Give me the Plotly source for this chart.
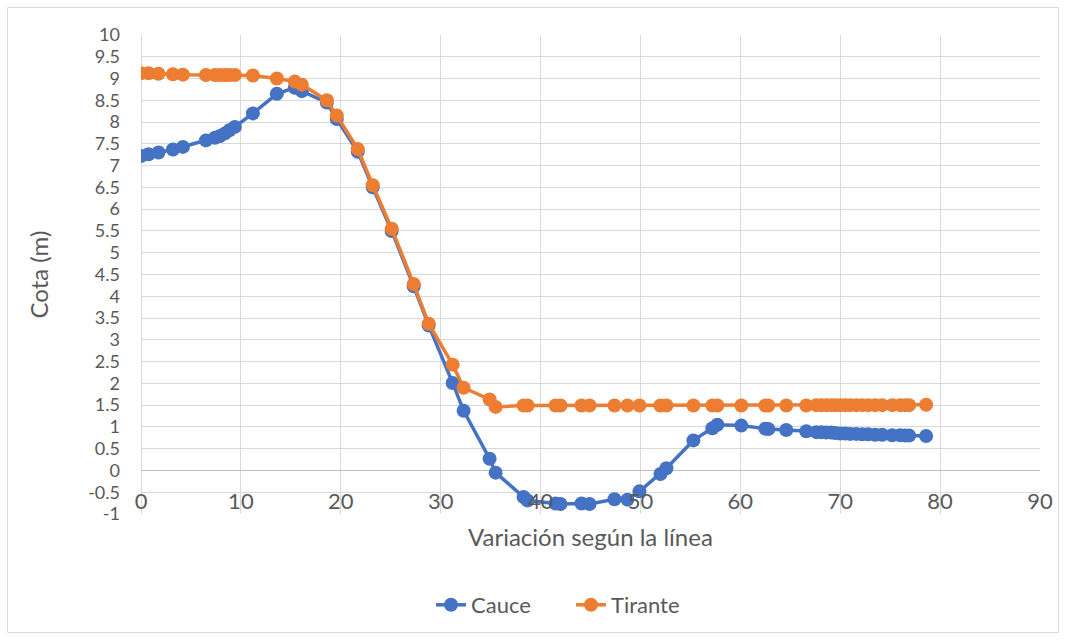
import plotly.graph_objects as go

# Stations along the profile line (m)
variacion = [
    0.0, 0.75, 1.75, 3.2, 4.2, 6.5, 7.4, 7.9, 8.4, 8.85, 9.4, 11.2,
    13.6, 15.4, 16.1, 18.6, 19.6, 21.7, 23.2, 25.1, 27.3, 28.8, 31.2, 32.3,
    34.9, 35.5, 38.3, 38.7, 41.5, 42.0, 44.1, 44.9, 47.4, 48.7, 49.9, 52.0,
    52.6, 55.3, 57.2, 57.7, 60.1, 62.5, 62.8, 64.6, 66.6, 67.6, 68.1, 68.6,
    69.1, 69.5, 70.0, 70.5, 71.0, 71.6, 72.2, 72.8, 73.5, 74.2, 75.2, 76.0,
    76.5, 76.9, 78.6,
]

# Channel bed elevation (m)
cauce = [
    7.22, 7.26, 7.30, 7.37, 7.43, 7.58, 7.64, 7.68, 7.74, 7.81, 7.89, 8.20,
    8.65, 8.79, 8.71, 8.45, 8.07, 7.32, 6.50, 5.50, 4.23, 3.33, 2.01, 1.37,
    0.27, -0.05, -0.61, -0.69, -0.76, -0.77, -0.76, -0.77, -0.66, -0.67, -0.48, -0.08,
    0.05, 0.69, 0.97, 1.05, 1.03, 0.96, 0.95, 0.93, 0.90, 0.88, 0.88, 0.87,
    0.87, 0.86, 0.85, 0.85, 0.84, 0.84, 0.83, 0.83, 0.82, 0.82, 0.81, 0.81,
    0.80, 0.80, 0.79,
]

# Water surface elevation (m)
tirante = [
    9.12, 9.12, 9.11, 9.10, 9.09, 9.08, 9.08, 9.08, 9.08, 9.08, 9.08, 9.07,
    9.00, 8.93, 8.86, 8.50, 8.15, 7.38, 6.55, 5.55, 4.28, 3.37, 2.43, 1.90,
    1.63, 1.46, 1.49, 1.49, 1.49, 1.49, 1.49, 1.49, 1.49, 1.49, 1.49, 1.49,
    1.49, 1.49, 1.49, 1.49, 1.49, 1.49, 1.49, 1.49, 1.49, 1.50, 1.50, 1.50,
    1.50, 1.50, 1.50, 1.50, 1.50, 1.50, 1.50, 1.50, 1.50, 1.50, 1.50, 1.50,
    1.50, 1.50, 1.51,
]

y_tick_vals = [v / 2 for v in range(-2, 21)]
y_tick_text = [("%g" % v) for v in y_tick_vals]
x_tick_vals = list(range(0, 91, 10))
x_tick_text = [str(v) for v in x_tick_vals]

FONT = "Lato, Carlito, Calibri, sans-serif"
TEXT = "#595959"
GRID = "#d9d9d9"

W, H = 1067, 640
L, R, T, B = 141, 1040, 35, 514

fig = go.Figure()
fig.add_trace(go.Scatter(
    x=variacion, y=cauce, name="Cauce", mode="lines+markers",
    line=dict(color="#4472c4", width=3.5),
    marker=dict(color="#4472c4", size=14),
))
fig.add_trace(go.Scatter(
    x=variacion, y=tirante, name="Tirante", mode="lines+markers",
    line=dict(color="#ed7d31", width=3.5),
    marker=dict(color="#ed7d31", size=14),
))

pw, ph = R - L, B - T


def px(xp):
    return (xp - L) / pw


def py(yp):
    return (B - yp) / ph


fig.update_layout(
    width=W, height=H,
    margin=dict(l=L, r=W - R, t=T, b=H - B),
    paper_bgcolor="white", plot_bgcolor="white",
    font=dict(family=FONT, color=TEXT, size=22),
    showlegend=True,
    legend=dict(
        orientation="h", x=px(431), xanchor="left", y=py(605), yanchor="middle",
        font=dict(size=22, color=TEXT), entrywidth=95,
    ),
    xaxis=dict(
        range=[0, 90], tickvals=x_tick_vals, ticktext=x_tick_text,
        showgrid=True, gridcolor=GRID, gridwidth=1,
        zeroline=True, zerolinecolor=GRID, zerolinewidth=1,
        showline=False, ticks="", ticklabelstandoff=-28,
        tickfont=dict(size=22, color=TEXT),
    ),
    yaxis=dict(
        range=[-1, 10], tickvals=y_tick_vals, ticktext=y_tick_text,
        showgrid=True, gridcolor=GRID, gridwidth=1,
        zeroline=True, zerolinecolor="#bfbfbf", zerolinewidth=1,
        showline=False, ticks="", ticklabelstandoff=20,
        tickfont=dict(size=18, color=TEXT),
    ),
    annotations=[
        dict(text="Cota (m)", xref="paper", yref="paper", x=px(38), y=0.5,
             textangle=-90, showarrow=False, font=dict(size=24, color=TEXT),
             xanchor="center", yanchor="middle"),
        dict(text="Variación según la línea", xref="paper", yref="paper",
             x=px(590), y=py(536), showarrow=False, font=dict(size=24, color=TEXT),
             xanchor="center", yanchor="middle"),
    ],
    shapes=[
        dict(type="rect", xref="paper", yref="paper",
             x0=px(7.5), x1=px(1058.5), y0=py(632.5), y1=py(7.5),
             line=dict(color=GRID, width=1), fillcolor="rgba(0,0,0,0)", layer="below"),
    ],
)

fig.write_html("out.html")
